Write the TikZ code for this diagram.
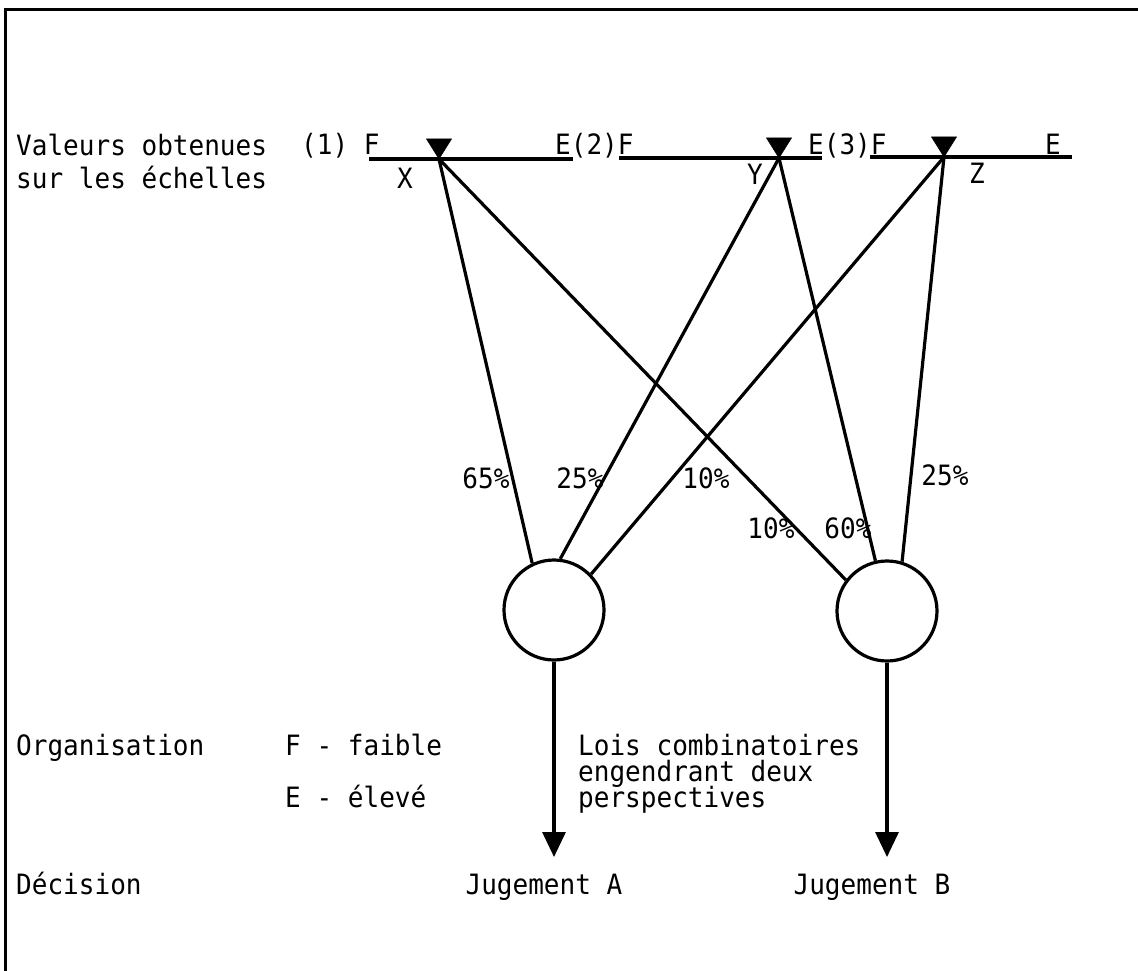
\documentclass[tikz,border=0pt]{standalone}
\usepackage{fontspec}
\setmonofont[FakeStretch=0.93]{DejaVu Sans Mono}
\usetikzlibrary{arrows.meta}
\begin{document}
\begin{tikzpicture}[x=1pt,y=-1pt,
  txt/.style={font=\ttfamily\fontsize{28}{30}\selectfont, inner sep=0pt},
  lbl/.style={txt, anchor=base west},
  pct/.style={txt, anchor=center},
  ln/.style={line width=3.2pt},
  marker/.style={fill=black, draw=black, line width=0.5pt},
  circ/.style={circle, draw, line width=3.2pt, minimum size=100pt, inner sep=0pt},
  arr/.style={line width=3.2pt, -{Triangle[width=23pt,length=25pt]}}]
\useasboundingbox (0,0) rectangle (1138,971);
% frame
\draw[line width=3pt] (5,971) -- (5,10) -- (1138,10);
% left texts
\node[lbl] (v1) at (16,156) {Valeurs obtenues};
\node[lbl] (v2) at (16,188) {sur les échelles};
\node[lbl] (org) at (16,755) {Organisation};
\node[lbl] (dec) at (16,894) {Décision};
\node[lbl] (ff) at (285,755) {F - faible};
\node[lbl] (ee) at (285,807) {E - élevé};
\node[lbl] (l1) at (578,755) {Lois combinatoires};
\node[lbl] (l2) at (578,781) {engendrant deux};
\node[lbl] (l3) at (578,807) {perspectives};
% scales
\node[lbl] (s1) at (301,155) {(1) F};
\node[lbl] (s2) at (555,155) {E(2)F};
\node[lbl] (s3) at (808,155) {E(3)F};
\node[lbl] (s4) at (1045,155) {E};
\coordinate (a1) at (369,159);
\coordinate (b1) at (573,159);
\coordinate (a2) at (619,158);
\coordinate (b2) at (822,158);
\coordinate (a3) at (870,157);
\coordinate (b3) at (1072,157);
\draw[ln] (a1) -- (b1);
\draw[ln] (a2) -- (b2);
\draw[ln] (a3) -- (b3);
\coordinate (X) at (439,159);
\coordinate (Y) at (779,158);
\coordinate (Z) at (944,157);
\draw[marker] (X) -- ++(-12.5,-20) -- ++(25,0) -- cycle;
\draw[marker] (Y) -- ++(-12.5,-20) -- ++(25,0) -- cycle;
\draw[marker] (Z) -- ++(-12.5,-20) -- ++(25,0) -- cycle;
\node[txt, anchor=base] (xl) at (405,188) {X};
\node[txt, anchor=base] (yl) at (755,185) {Y};
\node[txt, anchor=base] (zl) at (977,183) {Z};
% circles
\node[circ] (cA) at (554,610) {};
\node[circ] (cB) at (887,611) {};
% connectors
\draw[ln] (X) -- (cA.115);
\draw[ln] (Y) -- (cA.83);
\draw[ln] (Z) -- (cA.44);
\draw[ln] (X) -- (cB.143);
\draw[ln] (Y) -- (cB.103);
\draw[ln] (Z) -- (cB.73);
% percentages
\node[pct] (p1) at (486,478) {65\%};
\node[pct] (p2) at (580,478) {25\%};
\node[pct] (p3) at (706,478) {10\%};
\node[pct] (p4) at (771,528) {10\%};
\node[pct] (p5) at (848,528) {60\%};
\node[pct] (p6) at (945,475) {25\%};
% arrows
\coordinate (tA) at (554,857);
\coordinate (tB) at (887,857);
\draw[arr] (cA.south) -- (tA);
\draw[arr] (cB.south) -- (tB);
\node[txt, anchor=base] (jA) at (544,894) {Jugement A};
\node[txt, anchor=base] (jB) at (872,894) {Jugement B};
\end{tikzpicture}
\end{document}
